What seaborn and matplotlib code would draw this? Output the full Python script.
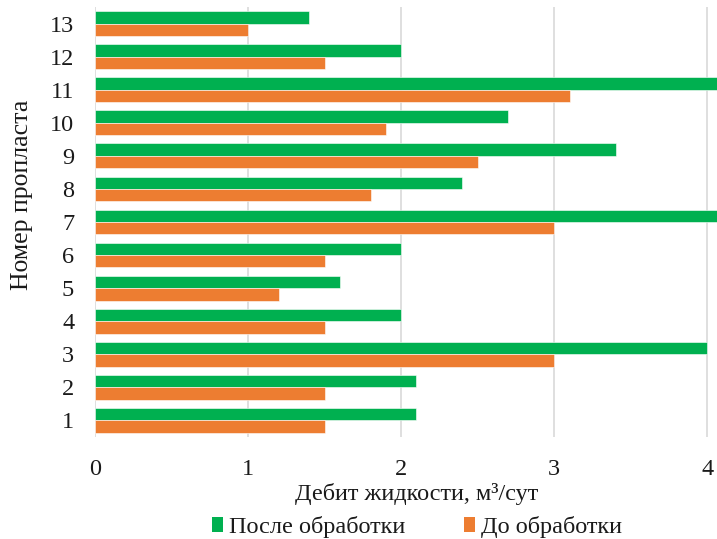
import matplotlib
matplotlib.use("Agg")
import matplotlib.pyplot as plt
import seaborn as sns
import pandas as pd
from matplotlib.patches import Patch

# Layer numbers and liquid flow rates (m3/day)
layers = ["1", "2", "3", "4", "5", "6", "7", "8", "9", "10", "11", "12", "13"]
after = [2.1, 2.1, 4.0, 2.0, 1.6, 2.0, 4.2, 2.4, 3.4, 2.7, 4.2, 2.0, 1.4]
before = [1.5, 1.5, 3.0, 1.5, 1.2, 1.5, 3.0, 1.8, 2.5, 1.9, 3.1, 1.5, 1.0]
series = ["После обработки", "До обработки"]
colors = ["#00B050", "#ED7D31"]
xticks = [0, 1, 2, 3, 4]

df = pd.DataFrame({
    "layer": layers * 2,
    "value": after + before,
    "series": [series[0]] * len(layers) + [series[1]] * len(layers),
})

sns.set_theme(style="white")
plt.rcParams["font.family"] = ["Liberation Serif", "DejaVu Serif"]
text_color = "#1a1a1a"

W, H = 717, 539
fig = plt.figure(figsize=(W / 100, H / 100), dpi=100)
ax = fig.add_axes([95 / W, 102 / H, 643 / W, 430 / H])

sns.barplot(
    data=df, x="value", y="layer", hue="series",
    order=layers[::-1], hue_order=series,
    palette=colors, orient="h", width=0.75,
    edgecolor="white", linewidth=0.4, saturation=1, ax=ax, legend=False,
)

ax.set_xlim(0, 4.2)
ax.set_xticks(xticks)
ax.grid(axis="x", color="#D9D9D9", linewidth=1.2)
ax.set_axisbelow(True)
for s in ax.spines.values():
    s.set_visible(False)
ax.tick_params(axis="both", length=0, labelsize=17.5, colors=text_color)
ax.tick_params(axis="y", pad=15)
ax.tick_params(axis="x", pad=16)

ax.set_xlabel("Дебит жидкости, м³/сут", fontsize=17.5, color=text_color, va="center")
ax.xaxis.set_label_coords((417 - 95) / 643, -(494 - 437) / 430)
ax.set_ylabel("")
fig.text(22 / W, 1 - 195 / H, "Номер пропласта", rotation=90, fontsize=18.5,
         color=text_color, ha="center", va="center")

handles = [Patch(facecolor=c, edgecolor="none") for c in colors]
fig.legend(handles, series, loc="center", bbox_to_anchor=(417 / W, 1 - 527 / H),
           ncol=2, frameon=False, fontsize=17.5, handlelength=0.45, handleheight=0.6,
           handletextpad=0.25, columnspacing=2.4, labelcolor=text_color)

fig.savefig("out.png", dpi=100)
